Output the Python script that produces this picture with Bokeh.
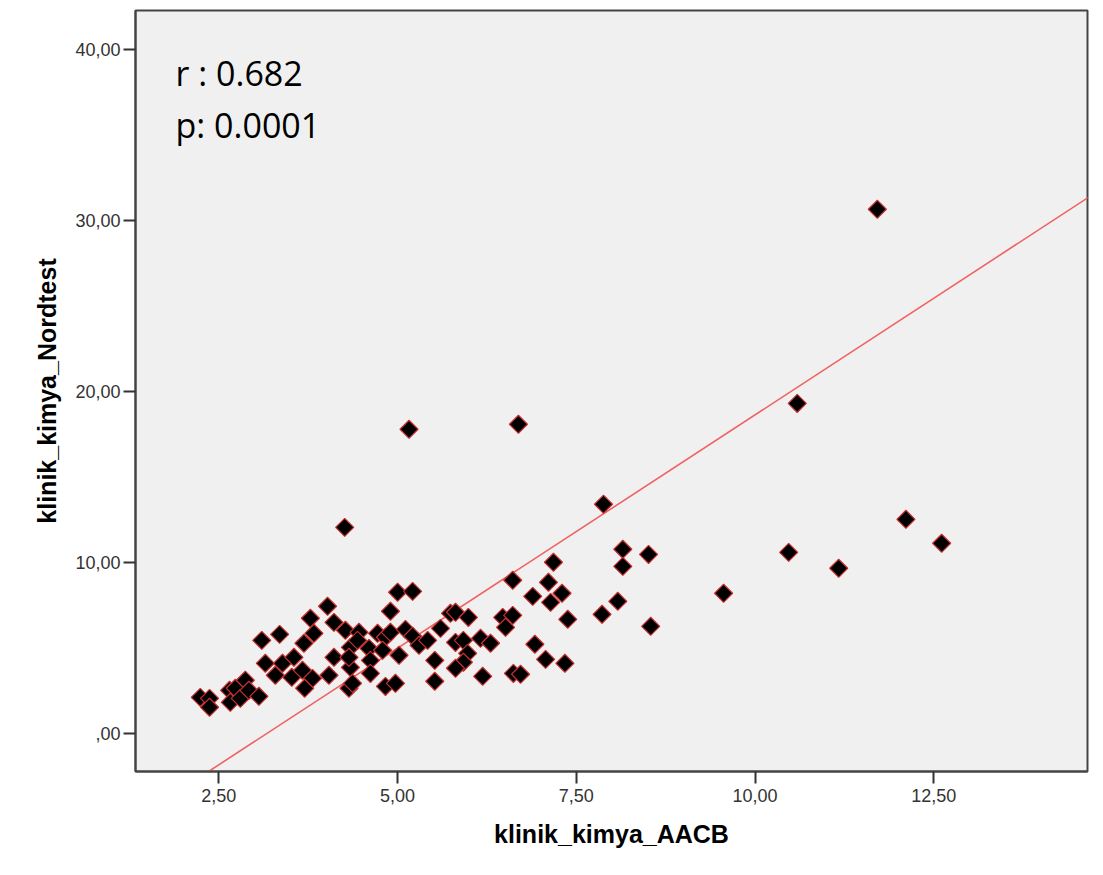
import numpy as np
from bokeh.plotting import figure
from bokeh.models import FixedTicker, Range1d, Label
from bokeh.embed import file_html
from bokeh.resources import INLINE

# --- data ---
aacb = [2.24, 2.37, 2.37, 2.65, 2.73, 2.87, 2.66, 2.80, 2.92, 3.06,
        3.10, 3.35, 3.15, 3.29, 3.39, 3.52, 3.55, 3.67, 3.69, 3.78,
        3.83, 3.81, 3.70, 4.02, 4.11, 4.27, 4.04, 4.11, 4.32, 4.34,
        4.34, 5.00, 5.21, 4.90, 4.46, 4.44, 4.72, 4.83, 4.90, 5.11,
        5.21, 5.30, 5.42, 5.60, 5.74, 5.81, 5.99, 5.81, 5.92, 6.16,
        6.30, 5.98, 5.92, 5.81, 5.52, 5.52, 6.19, 4.60, 4.32, 4.79,
        5.02, 4.62, 4.62, 4.37, 4.83, 4.97, 6.47, 6.51, 6.61, 6.62,
        7.18, 7.11, 6.89, 7.14, 7.30, 7.38, 6.61, 6.92, 7.07, 7.34,
        6.72, 7.86, 8.08, 8.15, 8.51, 8.15, 8.54, 7.88, 9.56, 10.47,
        11.17, 12.11, 12.61, 10.59, 11.71, 5.16, 6.69, 4.26]
nordtest = [2.13, 2.07, 1.55, 2.54, 2.66, 3.13, 1.84, 2.07, 2.54, 2.19,
            5.46, 5.81, 4.12, 3.42, 4.12, 3.30, 4.47, 3.71, 5.29, 6.75,
            5.87, 3.24, 2.66, 7.45, 6.51, 6.05, 3.42, 4.47, 2.66, 5.05,
            3.88, 8.27, 8.32, 7.16, 5.93, 5.46, 5.87, 5.64, 5.93, 6.10,
            5.70, 5.17, 5.46, 6.16, 7.04, 7.10, 6.80, 5.34, 5.46, 5.58,
            5.29, 4.70, 4.18, 3.83, 4.29, 3.07, 3.36, 4.99, 4.47, 4.88,
            4.59, 4.29, 3.53, 2.95, 2.77, 2.95, 6.80, 6.22, 8.97, 3.53,
            10.02, 8.85, 8.03, 7.68, 8.21, 6.69, 6.92, 5.23, 4.35, 4.12,
            3.48, 6.98, 7.74, 10.78, 10.48, 9.78, 6.28, 13.41, 8.21, 10.60,
            9.67, 12.53, 11.13, 19.30, 30.64, 17.79, 18.08, 12.06]

fit_slope = 2.725
fit_intercept = -8.62

x_ticks = [2.5, 5.0, 7.5, 10.0, 12.5]
x_tick_labels = ["2,50", "5,00", "7,50", "10,00", "12,50"]
y_ticks = [0, 10, 20, 30, 40]
y_tick_labels = [",00", "10,00", "20,00", "30,00", "40,00"]

r_text = "r : 0.682"
p_text = "p: 0.0001"

# --- figure ---
p = figure(width=1103, height=875, output_backend="svg", toolbar_location=None,
           x_range=Range1d(1.334, 14.65), y_range=Range1d(-2.2, 42.25),
           min_border_left=135, min_border_right=16, min_border_top=10,
           min_border_bottom=104)
p.background_fill_color = "#f0f0f0"
p.border_fill_color = "white"
p.outline_line_color = "#444444"
p.outline_line_width = 2
p.grid.visible = False

for ax in (p.xaxis, p.yaxis):
    ax.axis_line_color = "#444444"
    ax.axis_line_width = 2
    ax.major_tick_line_color = "#333333"
    ax.major_tick_line_width = 2
    ax.major_tick_out = 12
    ax.major_tick_in = 0
    ax.minor_tick_line_color = None
    ax.major_label_text_font = "Liberation Sans"
    ax.major_label_text_font_size = "18px"
    ax.major_label_text_color = "#333333"
    ax.axis_label_text_font = "Liberation Sans"
    ax.axis_label_text_font_size = "25px"
    ax.axis_label_text_font_style = "bold"
    ax.axis_label_text_color = "#000000"

p.xaxis.ticker = FixedTicker(ticks=x_ticks)
p.yaxis.ticker = FixedTicker(ticks=y_ticks)
p.xaxis.major_label_overrides = {t: l for t, l in zip(x_ticks, x_tick_labels)}
p.yaxis.major_label_overrides = {t: l for t, l in zip(y_ticks, y_tick_labels)}
p.xaxis.major_label_standoff = 5
p.yaxis.major_label_standoff = 3
p.xaxis.axis_label = "klinik_kimya_AACB"
p.yaxis.axis_label = "klinik_kimya_Nordtest"
p.xaxis.axis_label_standoff = 15
p.yaxis.axis_label_standoff = 11

# regression line
lx = np.array([1.0, 15.0])
ly = fit_slope * lx + fit_intercept
p.line(lx, ly, line_color="#f06262", line_width=1.6)

# points
p.scatter(aacb, nordtest, marker="square", size=12.8, angle=np.pi / 4,
          fill_color="black", line_color="#c83030", line_width=1.2)

# annotation
for txt, yy in ((r_text, 38.6), (p_text, 35.55)):
    p.add_layout(Label(x=1.894, y=yy, text=txt, text_font="Open Sans",
                       text_font_size="34px", text_color="#000000",
                       text_baseline="alphabetic"))

open("out.html", "w").write(file_html(p, INLINE))
